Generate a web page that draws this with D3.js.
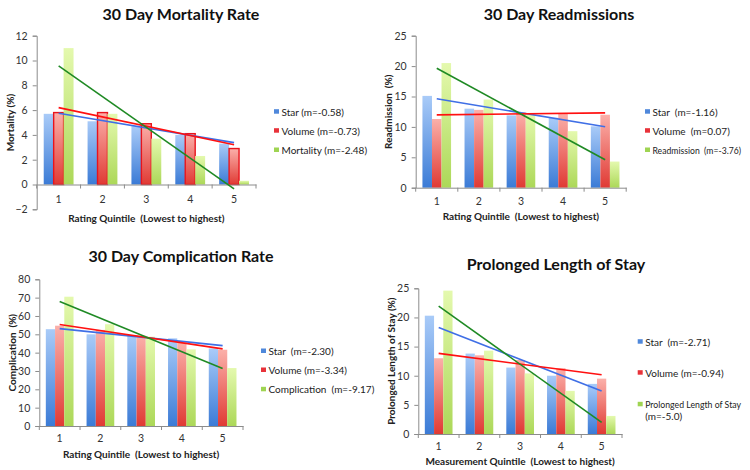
<!DOCTYPE html>
<html><head><meta charset="utf-8">
<script src="https://cdn.jsdelivr.net/npm/d3@7"></script>
<style>
body{margin:0;background:#fff;}
text{font-family:Lato,"Open Sans",sans-serif;}
</style></head>
<body><svg id="c" width="750" height="470"></svg>
<script>
// ---------- data ----------
const categories = ["1","2","3","4","5"];
const seriesNames = ["Star","Volume","Outcome"];

const mortalityStar   = [5.7, 5.1, 4.7, 4.0, 3.3];
const mortalityVolume = [5.8, 5.8, 4.9, 4.1, 2.9];
const mortalityRate   = [11.0, 5.7, 3.7, 2.3, 0.3];
const mortalityTicks  = [-2, 0, 2, 4, 6, 8, 10, 12];
const mortalityLegend = ["Star (m=-0.58)", "Volume (m=-0.73)", "Mortality (m=-2.48)"];

const readmStar   = [15.1, 13.0, 11.9, 11.5, 10.1];
const readmVolume = [11.3, 12.8, 12.4, 12.2, 12.0];
const readmRate   = [20.5, 14.5, 12.0, 9.3, 4.3];
const readmTicks  = [0, 5, 10, 15, 20, 25];
const readmLegend = ["Star  (m=-1.16)", "Volume  (m=0.07)", "Readmission  (m=-3.76)"];

const complStar   = [52.8, 50.0, 49.5, 47.8, 42.3];
const complVolume = [54.7, 52.4, 49.3, 45.5, 41.6];
const complRate   = [70.5, 55.5, 48.7, 41.8, 31.6];
const complTicks  = [0, 10, 20, 30, 40, 50, 60, 70, 80];
const complLegend = ["Star  (m=-2.30)", "Volume (m=-3.34)", "Complication  (m=-9.17)"];

const losStar   = [20.3, 13.8, 11.4, 10.0, 8.6];
const losVolume = [13.0, 13.5, 12.7, 11.3, 9.5];
const losRate   = [24.6, 14.3, 10.4, 7.4, 3.1];
const losTicks  = [0, 5, 10, 15, 20, 25];
const losLegend = ["Star  (m=-2.71)", "Volume (m=-0.94)", "Prolonged Length of Stay", "(m=-5.0)"];

// ---------- styling ----------
const barGrad = [["#a9cbf8","#3b7bd6"],["#fbb0aa","#e03a34"],["#e4f9ae","#acd858"]];
const lineColors = ["#3f6fe6","#ff1010","#1f8a24"];
const legendColors = ["#4f88db","#e8323a","#9fd452"];

const svg = d3.select("#c");
const defs = svg.append("defs");
barGrad.forEach((g,i)=>{
  const lg = defs.append("linearGradient").attr("id","g"+i).attr("x1",0).attr("y1",0).attr("x2",0).attr("y2",1);
  lg.append("stop").attr("offset","0%").attr("stop-color",g[0]);
  lg.append("stop").attr("offset","100%").attr("stop-color",g[1]);
});

function fit(vals){
  const xs = vals.map((v,i)=>i+1);
  const mx = d3.mean(xs), my = d3.mean(vals);
  const m = d3.sum(xs.map((x,i)=>(x-mx)*(vals[i]-my))) / d3.sum(xs.map(x=>(x-mx)*(x-mx)));
  return [my + m*(1-mx), my + m*(5-mx)];
}

function panel(o){
  const g = svg.append("g");
  const x = d3.scaleBand().domain(categories).range(o.xr).paddingInner(0.32).paddingOuter(0.16);
  const xs = d3.scaleBand().domain(seriesNames).range([0, x.bandwidth()]);
  const y = d3.scaleLinear().domain(o.dom).range(o.yr);
  const series = [o.star, o.vol, o.rate];

  // bars
  series.forEach((vals,si)=>{
    g.selectAll(null).data(vals).enter().append("rect")
      .attr("x",(d,i)=>x(categories[i]) + xs(seriesNames[si]))
      .attr("width", xs.bandwidth())
      .attr("y", d=>y(Math.max(0,d)))
      .attr("height", d=>Math.abs(y(d)-y(0)))
      .attr("fill","url(#g"+si+")")
      .attr("stroke", (o.outlineVol && si===1) ? "#e8141c" : "none")
      .attr("stroke-width", 1.4);
  });

  // y axis
  const ya = g.append("g").attr("transform",`translate(${o.xr[0]},0)`)
    .call(d3.axisLeft(y).tickValues(o.ticks).tickSize(4).tickPadding(5).tickFormat(d3.format("d")));
  ya.select(".domain").attr("stroke","#8c8c8c");
  ya.selectAll(".tick line").attr("stroke","#8c8c8c");
  ya.selectAll("text").attr("font-size",10.5).attr("fill","#333").style("font-family","Lato");

  // x axis at 0
  const xa = g.append("g").attr("transform",`translate(0,${y(0)})`)
    .call(d3.axisBottom(x).tickSize(0).tickPadding(o.tp));
  xa.select(".domain").attr("stroke","#8c8c8c");
  xa.selectAll("text").attr("font-size",10.5).attr("fill","#333").style("font-family","Lato");
  const bounds = categories.map(c=>x(c)-x.step()*x.paddingInner()/2).concat([o.xr[1]]);
  xa.selectAll(".bt").data(bounds).enter().append("line")
    .attr("x1",d=>d).attr("x2",d=>d).attr("y1",0).attr("y2",4).attr("stroke","#8c8c8c");

  // trend lines
  series.forEach((vals,si)=>{
    const f = fit(vals);
    g.append("line")
      .attr("x1", x(categories[0]) + x.bandwidth()/2).attr("x2", x(categories[4]) + x.bandwidth()/2)
      .attr("y1", y(f[0])).attr("y2", y(f[1]))
      .attr("stroke", lineColors[si]).attr("stroke-width",1.6);
  });

  // titles
  g.append("text").attr("x",o.title[1]).attr("y",o.title[2]).attr("text-anchor","middle")
    .attr("dominant-baseline","central").attr("font-size",16).attr("font-weight","bold").attr("fill","#111")
    .text(o.title[0]);
  g.append("text").attr("transform",`translate(${o.ytitle[1]},${(o.yr[0]+o.yr[1])/2}) rotate(-90)`)
    .attr("text-anchor","middle").attr("dominant-baseline","central")
    .attr("font-size",10).attr("font-weight","bold").attr("fill","#222").attr("xml:space","preserve").text(o.ytitle[0]);
  g.append("text").attr("x",(o.xr[0]+o.xr[1])/2).attr("y",o.xtitle[1]).attr("text-anchor","middle")
    .attr("dominant-baseline","central").attr("font-size",10).attr("font-weight","bold").attr("fill","#222")
    .attr("xml:space","preserve").text(o.xtitle[0]);

  // legend
  o.legend.forEach((t,i)=>{
    const ly = o.legRows[i];
    if(i<3){
      g.append("rect").attr("x",o.legX).attr("y",ly-2.5).attr("width",5).attr("height",4.5).attr("fill",legendColors[i]);
    }
    const tx = g.append("text").attr("x",o.legX+7.5).attr("y",ly).attr("dominant-baseline","central")
      .attr("font-size",10).attr("fill","#222").attr("xml:space","preserve").text(t);
    const maxW = 741 - (o.legX+7.5);
    if(tx.node().getComputedTextLength() > maxW) tx.attr("font-size",9.3);
    if(tx.node().getComputedTextLength() > maxW) tx.attr("textLength",maxW).attr("lengthAdjust","spacingAndGlyphs");
  });
}

panel({xr:[36.7,256], dom:[-2,12], yr:[209.3,35.7], ticks:mortalityTicks, tp:11,
  star:mortalityStar, vol:mortalityVolume, rate:mortalityRate, outlineVol:true,
  title:["30 Day Mortality Rate",181,13], ytitle:["Mortality (%)",10], xtitle:["Rating Quintile  (Lowest to highest)",218],
  legend:mortalityLegend, legX:274, legRows:[111.7,130.7,150]});
panel({xr:[415.7,626.2], dom:[0,25], yr:[187.7,35.7], ticks:readmTicks, tp:10,
  star:readmStar, vol:readmVolume, rate:readmRate,
  title:["30 Day Readmissions",559,13], ytitle:["Readmission  (%)",388], xtitle:["Rating Quintile  (Lowest to highest)",216],
  legend:readmLegend, legX:645, legRows:[111.7,130.7,150]});
panel({xr:[39.3,243], dom:[0,80], yr:[426,279.3], ticks:complTicks, tp:9,
  star:complStar, vol:complVolume, rate:complRate,
  title:["30 Day Complication Rate",181,255], ytitle:["Complication  (%)",11.7], xtitle:["Rating Quintile  (Lowest to highest)",454],
  legend:complLegend, legX:261, legRows:[351,370,389.3]});
panel({xr:[418.3,622], dom:[0,25], yr:[434,288.3], ticks:losTicks, tp:9,
  star:losStar, vol:losVolume, rate:losRate,
  title:["Prolonged Length of Stay",556,263], ytitle:["Prolonged Length of Stay (%)",390.7], xtitle:["Measurement Quintile  (Lowest to highest)",460.7],
  legend:losLegend, legX:637.7, legRows:[341.7,372.7,404.3,416]});
</script></body></html>
